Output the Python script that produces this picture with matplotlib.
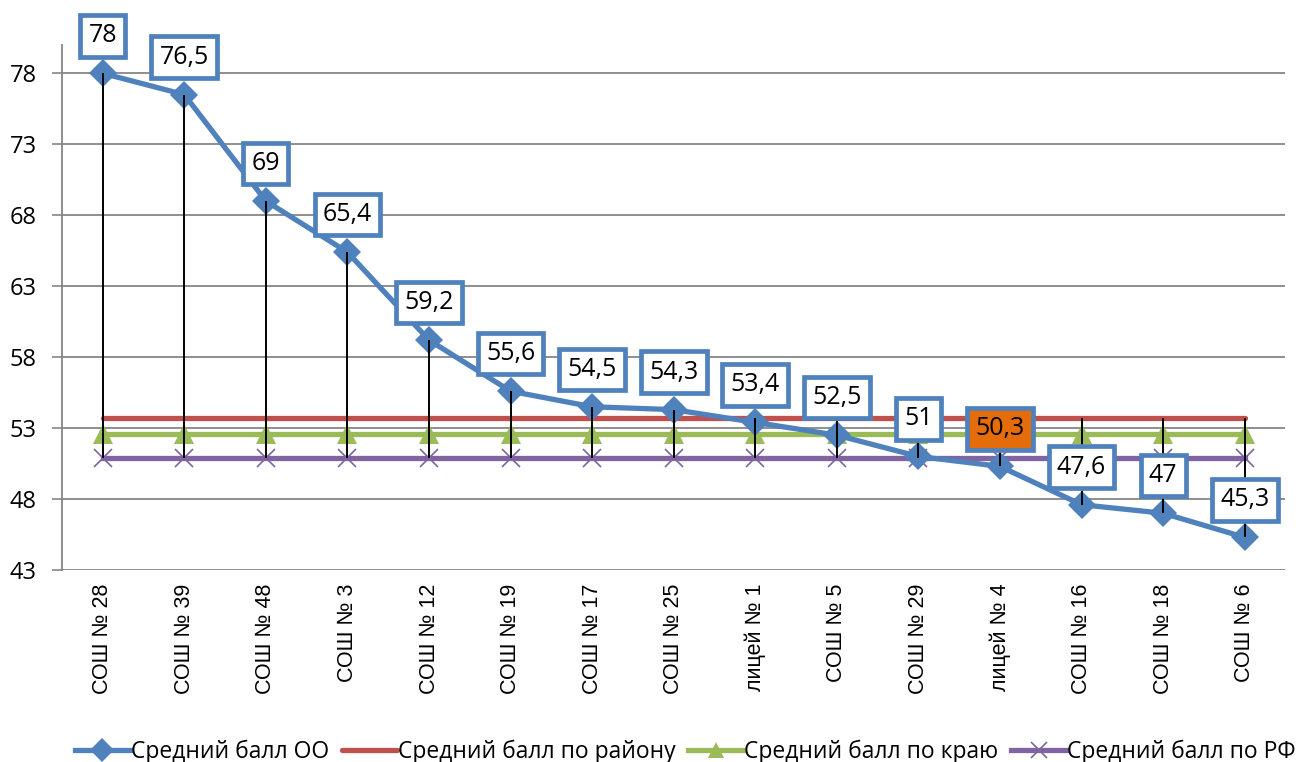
import numpy as np
import matplotlib
matplotlib.use("Agg")
import matplotlib.pyplot as plt

plt.rcParams.update({
    "font.family": ["Open Sans", "DejaVu Sans"],
    "axes.unicode_minus": False,
})

schools = ["СОШ № 28", "СОШ № 39", "СОШ № 48", "СОШ № 3", "СОШ № 12",
           "СОШ № 19", "СОШ № 17", "СОШ № 25", "лицей № 1", "СОШ № 5",
           "СОШ № 29", "лицей № 4", "СОШ № 16", "СОШ № 18", "СОШ № 6"]
score_oo = [78, 76.5, 69, 65.4, 59.2, 55.6, 54.5, 54.3, 53.4, 52.5,
            51, 50.3, 47.6, 47, 45.3]
score_district = [53.7] * 15
score_region = [52.6] * 15
score_rf = [50.9] * 15
highlight = "лицей № 4"

series_names = ["Средний балл ОО", "Средний балл по району",
                "Средний балл по краю", "Средний балл по РФ"]

blue = "#4F81BD"
red = "#C0504D"
green = "#9BBB59"
purple = "#8064A2"
orange = "#E46C0A"

fig = plt.figure(figsize=(13.13, 7.62), dpi=100)
ax = fig.add_axes([0.0472, 0.252, 0.9318, 0.689])

x = np.arange(len(schools))

ax.plot(x, score_oo, color=blue, lw=3.8, marker="D", ms=14,
        markeredgewidth=0, zorder=5, label=series_names[0])
ax.plot(x, score_district, color=red, lw=3.8, zorder=3, label=series_names[1],
        solid_capstyle="round")
ax.plot(x, score_region, color=green, lw=3.8, marker="^", ms=14,
        markeredgewidth=0, zorder=3, label=series_names[2])
ax.plot(x, score_rf, color=purple, lw=3.8, marker="x", ms=13,
        markeredgewidth=1.2, zorder=3, label=series_names[3])

# high-low lines
all_series = np.array([score_oo, score_district, score_region, score_rf])
ax.vlines(x, all_series.min(axis=0), all_series.max(axis=0),
          color="black", lw=1.4, zorder=6)

# data labels
for xi, v, name in zip(x, score_oo, schools):
    txt = f"{v:g}".replace(".", ",")
    face = orange if name == highlight else "white"
    ax.annotate(txt, (xi, v), xytext=(0, 27), textcoords="offset points",
                ha="center", va="center", fontsize=18, zorder=10,
                bbox=dict(boxstyle="square,pad=0.33", fc=face, ec=blue, lw=3.4))

ax.set_xlim(-0.5, len(schools) - 0.5)
ax.set_ylim(43, 80)
ax.set_yticks(np.arange(43, 80, 5))
ax.set_xticks(x)
ax.set_xticklabels(schools, rotation=90, va="top", ha="center",
                   fontsize=15.5, family="Liberation Sans")
ax.tick_params(axis="x", length=0, pad=10)
ax.tick_params(axis="y", length=7, width=1.2, color="#868686",
               labelsize=17, pad=11)

ax.grid(axis="y", color="#868686", lw=1.3)
ax.set_axisbelow(True)
for side in ["top", "right", "bottom"]:
    ax.spines[side].set_visible(False)
ax.spines["left"].set_color("#868686")
ax.spines["left"].set_linewidth(1.3)

fig.legend(loc="lower center", bbox_to_anchor=(0.522, -0.03), ncol=4,
           frameon=False, fontsize=16.5, handlelength=2.4, handletextpad=0.05,
           columnspacing=0.55, markerscale=0.85)

fig.savefig("out.png", dpi=100)
